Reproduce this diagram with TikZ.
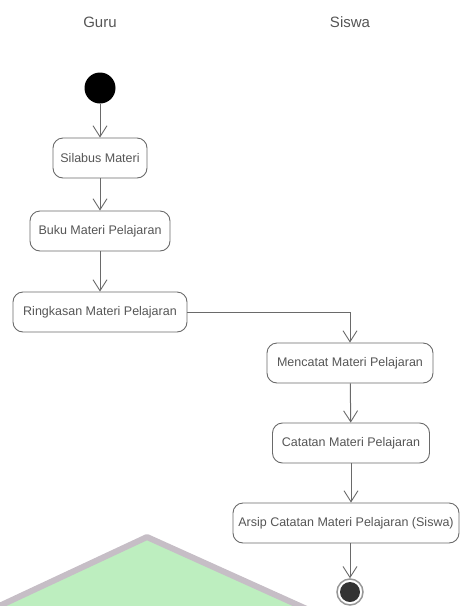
\documentclass[tikz,border=0pt]{standalone}
\usepackage{fontspec}
\setmainfont{Liberation Sans}
\usetikzlibrary{arrows.meta}
\definecolor{txt}{HTML}{555555}
\definecolor{edge}{HTML}{6A6A6A}
\definecolor{wmfill}{HTML}{BDEEBF}
\definecolor{wmline}{HTML}{C6BEC6}
\begin{document}
\begin{tikzpicture}[x=1pt,y=-1pt,
  actbox/.style={draw=edge,line width=0.9pt,rounded corners=10pt,minimum height=40pt,inner xsep=4pt,text=txt,font=\fontsize{12.5}{14}\selectfont},
  flow/.style={draw=edge,line width=1pt,-{Straight Barb[length=11pt,width=14pt,line width=0.9pt]}},
  lane/.style={text=txt,font=\fontsize{15}{17}\selectfont}]
\useasboundingbox (0,0) rectangle (460,606);
\begin{scope}
\clip (0,0) rectangle (460,606);
\filldraw[fill=wmfill,draw=wmline,line width=6pt,line join=round] (147,537) -- (320,615) -- (-20,615) -- cycle;
\end{scope}
\node[lane] (guru) at (100,22) {Guru};
\node[lane] (siswa) at (350,22) {Siswa};
\node[circle,fill=black,minimum size=31pt,inner sep=0pt] (start) at (100,88) {};
\node[actbox,minimum width=94pt] (silabus) at (100,158) {Silabus Materi};
\node[actbox,minimum width=140pt] (buku) at (100,231) {Buku Materi Pelajaran};
\node[actbox,minimum width=174pt] (ringkas) at (100,312) {Ringkasan Materi Pelajaran};
\node[actbox,minimum width=166pt] (mencatat) at (350,363) {Mencatat Materi Pelajaran};
\node[actbox,minimum width=157pt] (catatan) at (351,443) {Catatan Materi Pelajaran};
\node[actbox,minimum width=226pt] (arsip) at (346,523) {Arsip Catatan Materi Pelajaran (Siswa)};
\node[circle,draw=edge!70,line width=1.5pt,fill=white,minimum size=26pt,inner sep=0pt] (end) at (350,592) {};
\fill[black!80] (end.center) circle (10pt);
\draw[flow] (start) -- (silabus);
\draw[flow] (silabus) -- (buku);
\draw[flow] (buku) -- (ringkas);
\draw[flow] (ringkas.east) -| (mencatat.north);
\draw[flow] (mencatat) -- (catatan);
\draw[flow] (catatan.south) -- (catatan.south |- arsip.north);
\draw[flow] (end.north |- arsip.south) -- (end);
\end{tikzpicture}
\end{document}
